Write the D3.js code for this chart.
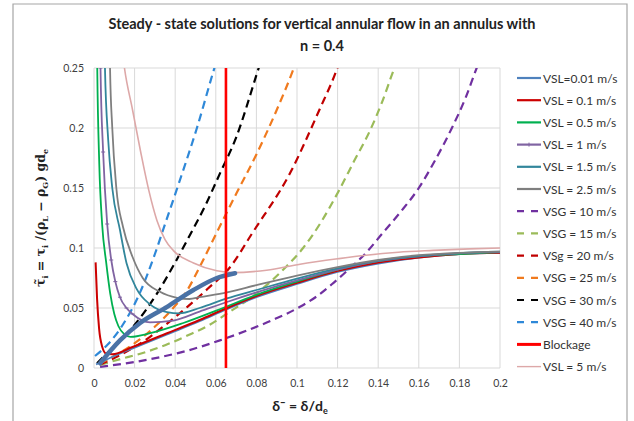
<!DOCTYPE html>
<html><head><meta charset="utf-8">
<script src="https://cdn.jsdelivr.net/npm/d3@7"></script>
<style>body{margin:0;background:#fff}svg{display:block}</style>
</head><body><svg id="c" width="634" height="421"></svg>
<script>
// ---- data (x = δ/de, y = dimensionless interfacial shear) ----
const xTicks = [0,0.02,0.04,0.06,0.08,0.1,0.12,0.14,0.16,0.18,0.2];
const yTicks = [0,0.05,0.1,0.15,0.2,0.25];

const vsl001 = [[0.001,0.003],[0.01,0.01],[0.02,0.017],[0.036,0.028],[0.052,0.039],[0.0655,0.049],[0.08,0.059],[0.1,0.07],[0.12,0.08],[0.14,0.087],[0.16,0.092],[0.18,0.095],[0.2,0.096]];
const vsl01 = [[0.0008,0.088],[0.0015,0.058],[0.0025,0.033],[0.004,0.018],[0.006,0.012],[0.009,0.0115],[0.019,0.0175],[0.036,0.029],[0.052,0.04],[0.0655,0.05],[0.08,0.06],[0.1,0.071],[0.12,0.081],[0.14,0.088],[0.16,0.092],[0.18,0.095],[0.2,0.096]];
const vsl05 = [[0.0013,0.3],[0.0016,0.25],[0.0026,0.17],[0.004,0.12],[0.006,0.088],[0.008,0.062],[0.01,0.045],[0.012,0.035],[0.015,0.028],[0.018,0.026],[0.0276,0.029],[0.044,0.0375],[0.0605,0.048],[0.08,0.061],[0.1,0.072],[0.12,0.082],[0.14,0.089],[0.16,0.093],[0.18,0.095],[0.2,0.0965]];
const vsl1 = [[0.0028,0.3],[0.0032,0.25],[0.0045,0.18],[0.0065,0.12],[0.0085,0.09],[0.0105,0.072],[0.0128,0.059],[0.016,0.05],[0.019,0.045],[0.0276,0.038],[0.039,0.0395],[0.052,0.047],[0.0655,0.055],[0.08,0.063],[0.1,0.073],[0.12,0.082],[0.14,0.089],[0.16,0.093],[0.18,0.0955],[0.2,0.0965]];
const vsl15 = [[0.005,0.3],[0.0054,0.25],[0.007,0.19],[0.009,0.15],[0.0128,0.115],[0.016,0.0875],[0.021,0.066],[0.0276,0.053],[0.036,0.0465],[0.042,0.0455],[0.052,0.05],[0.0655,0.058],[0.08,0.065],[0.1,0.0745],[0.12,0.083],[0.14,0.0895],[0.16,0.0935],[0.18,0.0958],[0.2,0.097]];
const vsl25 = [[0.0075,0.3],[0.0079,0.25],[0.009,0.2],[0.011,0.15],[0.0143,0.1175],[0.019,0.0925],[0.024,0.075],[0.0325,0.0635],[0.041,0.0585],[0.047,0.0575],[0.052,0.059],[0.0655,0.063],[0.08,0.069],[0.1,0.077],[0.12,0.084],[0.14,0.09],[0.16,0.094],[0.18,0.096],[0.2,0.097]];
const vsl5 = [[0.0135,0.27],[0.015,0.25],[0.019,0.215],[0.023,0.18],[0.027,0.148],[0.031,0.123],[0.035,0.107],[0.039,0.098],[0.049,0.0875],[0.0605,0.081],[0.068,0.0795],[0.085,0.0815],[0.1015,0.0865],[0.12,0.091],[0.134,0.094],[0.15,0.0965],[0.167,0.098],[0.185,0.0993],[0.2,0.1]];
const vsg10 = [[0.003,0.001],[0.02,0.005],[0.0325,0.009],[0.045,0.014],[0.062,0.023],[0.075,0.031],[0.088,0.04],[0.1015,0.051],[0.11,0.06],[0.118,0.071],[0.126,0.083],[0.134,0.096],[0.142,0.112],[0.151,0.13],[0.16,0.15],[0.168,0.173],[0.176,0.199],[0.183,0.225],[0.1885,0.25],[0.192,0.265]];
const vsg15 = [[0.003,0.0025],[0.012,0.007],[0.024,0.0125],[0.035,0.019],[0.046,0.027],[0.057,0.036],[0.067,0.047],[0.076,0.057],[0.085,0.069],[0.095,0.085],[0.103,0.1],[0.112,0.122],[0.1207,0.148],[0.128,0.172],[0.136,0.198],[0.142,0.222],[0.148,0.25],[0.151,0.262]];
const vsg20 = [[0.003,0.003],[0.012,0.01],[0.0276,0.026],[0.036,0.037],[0.046,0.051],[0.056,0.066],[0.067,0.084],[0.078,0.1125],[0.0966,0.1625],[0.111,0.215],[0.119,0.246],[0.122,0.26]];
const vsg25 = [[0.003,0.004],[0.012,0.012],[0.0227,0.024],[0.031,0.036],[0.039,0.05],[0.046,0.065],[0.052,0.084],[0.0605,0.113],[0.07,0.145],[0.08,0.178],[0.09,0.215],[0.098,0.248],[0.101,0.262]];
const vsg30 = [[0.0015,0.004],[0.008,0.015],[0.019,0.034],[0.031,0.062],[0.04,0.088],[0.047,0.11],[0.055,0.136],[0.062,0.162],[0.07,0.192],[0.08,0.244],[0.083,0.26]];
const vsg40 = [[0.0005,0.01],[0.007,0.02],[0.0138,0.035],[0.0227,0.063],[0.03,0.095],[0.035,0.12],[0.043,0.16],[0.0507,0.2],[0.0586,0.246],[0.062,0.265]];
const blockage = [[0.065,0],[0.065,0.25]];
const minLocus = [[0.003,0.004],[0.0128,0.023],[0.0227,0.0375],[0.036,0.051],[0.049,0.065],[0.0605,0.075],[0.0695,0.079]];

const legendLabels = ["VSL=0.01 m/s","VSL = 0.1 m/s","VSL = 0.5 m/s","VSL = 1 m/s","VSL = 1.5 m/s","VSL = 2.5 m/s","VSG = 10 m/s","VSG = 15 m/s","VSg = 20 m/s","VSG = 25 m/s","VSG = 30 m/s","VSG = 40 m/s","Blockage","VSL = 5 m/s"];
const legendData = [vsl001,vsl01,vsl05,vsl1,vsl15,vsl25,vsg10,vsg15,vsg20,vsg25,vsg30,vsg40,blockage,vsl5];

// ---- styles ----
const styles = [
 {c:"#4F81BD",w:1.8,d:null},{c:"#CC0000",w:2,d:null},{c:"#00B050",w:1.8,d:null},{c:"#8064A2",w:1.8,d:null},
 {c:"#31869B",w:1.8,d:null},{c:"#7F7F7F",w:1.8,d:null},{c:"#7030A0",w:2.2,d:"8,5"},{c:"#9BBB59",w:2.2,d:"8,5"},
 {c:"#C00000",w:2.2,d:"8,5"},{c:"#F07A1E",w:2.2,d:"8,5"},{c:"#000000",w:2.2,d:"8,5"},{c:"#2E88D8",w:2.2,d:"8,5"},
 {c:"#FF0000",w:2.6,d:null},{c:"#DDA8A8",w:1.6,d:null}];

const svg = d3.select("#c");
const font = "Lato, 'Open Sans', sans-serif";
const x = d3.scaleLinear().domain([0,0.2]).range([94,500]);
const y = d3.scaleLinear().domain([0,0.25]).range([368,68]);

// frame
svg.append("path").attr("d","M13,421V4H627V421").attr("fill","none").attr("stroke","#A6A6A6").attr("stroke-width",1.2);

// grid
const grid = svg.append("g");
grid.selectAll("line.v").data(xTicks).join("line").attr("x1",d=>x(d)).attr("x2",d=>x(d)).attr("y1",y(0)).attr("y2",y(0.25)).attr("stroke","#D9D9D9");
grid.selectAll("line.h").data(yTicks).join("line").attr("x1",x(0)).attr("x2",x(0.2)).attr("y1",d=>y(d)).attr("y2",d=>y(d)).attr("stroke","#D9D9D9");

// axes labels via d3 axes
const xa = svg.append("g").attr("transform",`translate(0,${y(0)})`).call(d3.axisBottom(x).tickValues(xTicks).tickSize(0).tickPadding(12).tickFormat(d=>d3.format("")(+d.toFixed(2))));
const ya = svg.append("g").attr("transform",`translate(${x(0)},0)`).call(d3.axisLeft(y).tickValues(yTicks).tickSize(0).tickPadding(10).tickFormat(d=>String(+d.toFixed(2))));
[xa,ya].forEach(a=>{a.select(".domain").remove();a.selectAll("text").attr("font-family",font).attr("font-size",10.5).attr("fill","#404040");});

// clip
svg.append("clipPath").attr("id","pc").append("rect").attr("x",x(0)).attr("y",y(0.25)).attr("width",x(0.2)-x(0)).attr("height",y(0)-y(0.25));
const plot = svg.append("g").attr("clip-path","url(#pc)");
const line = d3.line().x(d=>x(d[0])).y(d=>y(d[1])).curve(d3.curveMonotoneX);
const drawOrder = [6,7,8,9,10,11,13,0,1,2,3,4,5];
drawOrder.forEach(i=>{
  const s = styles[i];
  plot.append("path").datum(legendData[i]).attr("d",line).attr("fill","none").attr("stroke",s.c).attr("stroke-width",s.w).attr("stroke-dasharray",s.d);
});
// VSL = 1 small markers
plot.selectAll("path.mk").data(vsl1.filter(d=>d[0]<0.05)).join("path").attr("d",d=>`M${x(d[0])-2},${y(d[1])}h4`).attr("stroke","#8064A2").attr("stroke-width",1);
// locus of minima (thick)
plot.append("path").datum(minLocus).attr("d",line).attr("fill","none").attr("stroke","#4A72A6").attr("stroke-width",4.5).attr("stroke-linecap","round");
// blockage
plot.append("path").datum(blockage).attr("d",d3.line().x(d=>x(d[0])).y(d=>y(d[1]))).attr("stroke","#FF0000").attr("stroke-width",2.6);

// legend
const lg = svg.append("g");
legendLabels.forEach((t,i)=>{
  const yy = 78 + i*22.2, s = styles[i];
  lg.append("line").attr("x1",517).attr("x2",541).attr("y1",yy).attr("y2",yy).attr("stroke",s.c).attr("stroke-width",s.d?2.2:(i===12?3:(i===13?1.4:2.2))).attr("stroke-dasharray",s.d?"7,7":null);
  if(i===3) lg.append("line").attr("x1",529).attr("x2",529).attr("y1",yy-2).attr("y2",yy+2).attr("stroke",s.c).attr("stroke-width",1);
  lg.append("text").attr("x",543).attr("y",yy+4.5).attr("font-family",font).attr("font-size",12).attr("fill","#333").text(t);
});

// titles
svg.append("text").attr("x",322).attr("y",29).attr("text-anchor","middle").attr("font-family",font).attr("font-weight","bold").attr("font-size",14.5).attr("fill","#222").text("Steady - state solutions for vertical annular flow in an annulus with");
svg.append("text").attr("x",322).attr("y",51).attr("text-anchor","middle").attr("font-family",font).attr("font-weight","bold").attr("font-size",14.5).attr("fill","#222").text("n = 0.4");

// x label
const xl = svg.append("text").attr("x",300).attr("y",411).attr("text-anchor","middle").attr("font-family",font).attr("font-weight","bold").attr("font-size",14).attr("fill","#222");
xl.append("tspan").text("δ¯ = δ/d");
xl.append("tspan").attr("font-size",9).attr("dy",3).text("e");

// y label
const yl = svg.append("text").attr("transform","translate(45,218) rotate(-90)").attr("text-anchor","middle").attr("font-family","'DejaVu Serif', serif").attr("font-weight","bold").attr("font-size",12.5).attr("fill","#222");
yl.append("tspan").text("τ̃");
yl.append("tspan").attr("font-size",8).attr("dy",3).text("i");
yl.append("tspan").attr("dy",-3).text(" = τ");
yl.append("tspan").attr("font-size",8).attr("dy",3).text("i");
yl.append("tspan").attr("dy",-3).text(" /(ρ");
yl.append("tspan").attr("font-size",8).attr("dy",3).text("L");
yl.append("tspan").attr("dy",-3).text(" − ρ");
yl.append("tspan").attr("font-size",8).attr("dy",3).text("G");
yl.append("tspan").attr("dy",-3).text(") gd");
yl.append("tspan").attr("font-size",8).attr("dy",3).text("e");
</script></body></html>
